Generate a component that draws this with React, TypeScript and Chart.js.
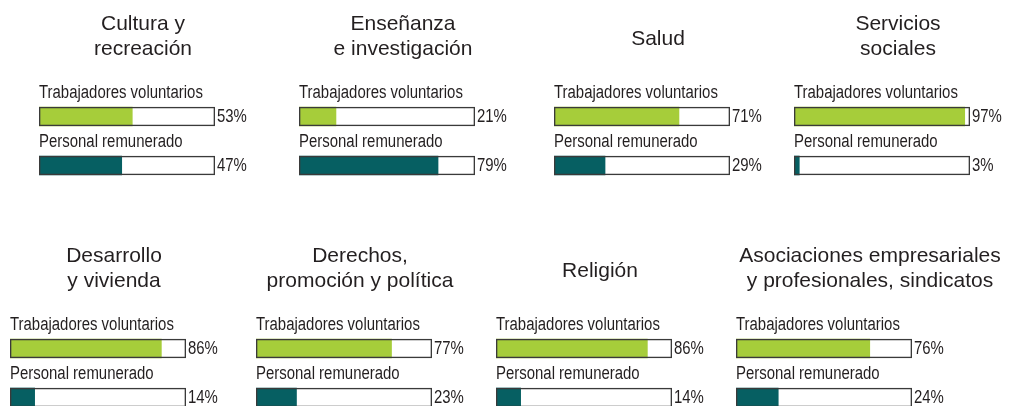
import React, { useEffect, useRef } from 'react';
import { Chart, registerables } from 'chart.js';

Chart.register(...registerables);

// ---- data ----
const categories = ['Trabajadores voluntarios', 'Personal remunerado'];
const panelTitles: string[][] = [
  ['Cultura y', 'recreación'],
  ['Enseñanza', 'e investigación'],
  ['Salud'],
  ['Servicios', 'sociales'],
  ['Desarrollo', 'y vivienda'],
  ['Derechos,', 'promoción y política'],
  ['Religión'],
  ['Asociaciones empresariales', 'y profesionales, sindicatos'],
];
const voluntarios = [53, 21, 71, 97, 86, 77, 86, 76];
const remunerado = [47, 79, 29, 3, 14, 23, 14, 24];
const fullScale = [100, 100];

// ---- layout ----
const barLefts = [39, 299, 554, 794, 10, 256, 496, 736];
const titleCenters = [143, 403, 658, 898, 114, 360, 600, 870];
const rowTops = [0, 232];
const CANVAS_W = 290;
const CANVAS_H = 200;
const PAD_LEFT = 10;
const BAR_W = 176;

// ---- styles ----
const GREEN = '#a6cd3a';
const TEAL = '#065f62';
const OUTLINE = '#3a3a3a';
const TEXT = '#231f20';
const TITLE_FONT = '21px "Liberation Sans", Arial, sans-serif';
const LABEL_FONT = '18px "Liberation Sans", Arial, sans-serif';
const NARROW = 0.83;

function narrowText(ctx: CanvasRenderingContext2D, text: string, x: number, y: number) {
  ctx.save();
  ctx.translate(x, y);
  ctx.scale(NARROW, 1);
  ctx.fillText(text, 0, 0);
  ctx.restore();
}

const textPlugin = {
  id: 'panelText',
  afterDatasetsDraw(chart: any, _args: any, opts: any) {
    const { ctx, chartArea } = chart;
    const idx: number = opts.index;
    ctx.save();
    ctx.fillStyle = TEXT;
    // title
    ctx.font = TITLE_FONT;
    ctx.textAlign = 'center';
    ctx.textBaseline = 'alphabetic';
    const lines = panelTitles[idx];
    const baselines = lines.length === 2 ? [30, 55] : [45];
    const cx = titleCenters[idx] - (barLefts[idx] - PAD_LEFT);
    lines.forEach((t, i) => ctx.fillText(t, cx, baselines[i]));
    // category labels and percentages
    ctx.font = LABEL_FONT;
    ctx.textAlign = 'left';
    const meta = chart.getDatasetMeta(0);
    const xEnd = chart.scales.x.getPixelForValue(100);
    const vals = [voluntarios[idx], remunerado[idx]];
    meta.data.forEach((bar: any, i: number) => {
      const top = bar.y - bar.height / 2;
      narrowText(ctx, categories[i], chartArea.left, top - 9);
      narrowText(ctx, vals[i] + '%', xEnd + 2, bar.y + 5);
    });
    ctx.restore();
  },
};

function Panel({ index }: { index: number }) {
  const ref = useRef<HTMLCanvasElement | null>(null);
  useEffect(() => {
    if (!ref.current) return;
    const chart = new Chart(ref.current, {
      type: 'bar',
      data: {
        labels: categories,
        datasets: [
          {
            data: fullScale,
            backgroundColor: 'rgba(0,0,0,0)',
            borderColor: OUTLINE,
            borderWidth: 1,
            borderSkipped: false,
            grouped: false,
            barThickness: 19,
          } as any,
          {
            data: [voluntarios[index], remunerado[index]],
            backgroundColor: [GREEN, TEAL],
            borderWidth: 0,
            grouped: false,
            barThickness: 19,
          } as any,
        ],
      },
      options: {
        indexAxis: 'y',
        animation: false,
        responsive: false,
        events: [],
        layout: {
          padding: { left: PAD_LEFT, right: CANVAS_W - PAD_LEFT - BAR_W, top: 92, bottom: 10 },
        },
        scales: {
          x: { min: 0, max: 100, display: false },
          y: { display: false },
        },
        plugins: {
          legend: { display: false },
          tooltip: { enabled: false },
          title: { display: false },
          panelText: { index },
        } as any,
      },
      plugins: [textPlugin],
    });
    return () => chart.destroy();
  }, [index]);
  return (
    <canvas
      ref={ref}
      width={CANVAS_W}
      height={CANVAS_H}
      style={{
        position: 'absolute',
        left: barLefts[index] - PAD_LEFT,
        top: rowTops[Math.floor(index / 4)],
        width: CANVAS_W,
        height: CANVAS_H,
      }}
    />
  );
}

export default function App() {
  return (
    <div
      style={{
        position: 'absolute',
        left: 0,
        top: 0,
        width: 1010,
        height: 406,
        overflow: 'hidden',
        background: '#ffffff',
      }}
    >
      {panelTitles.map((_, i) => (
        <Panel key={i} index={i} />
      ))}
    </div>
  );
}
